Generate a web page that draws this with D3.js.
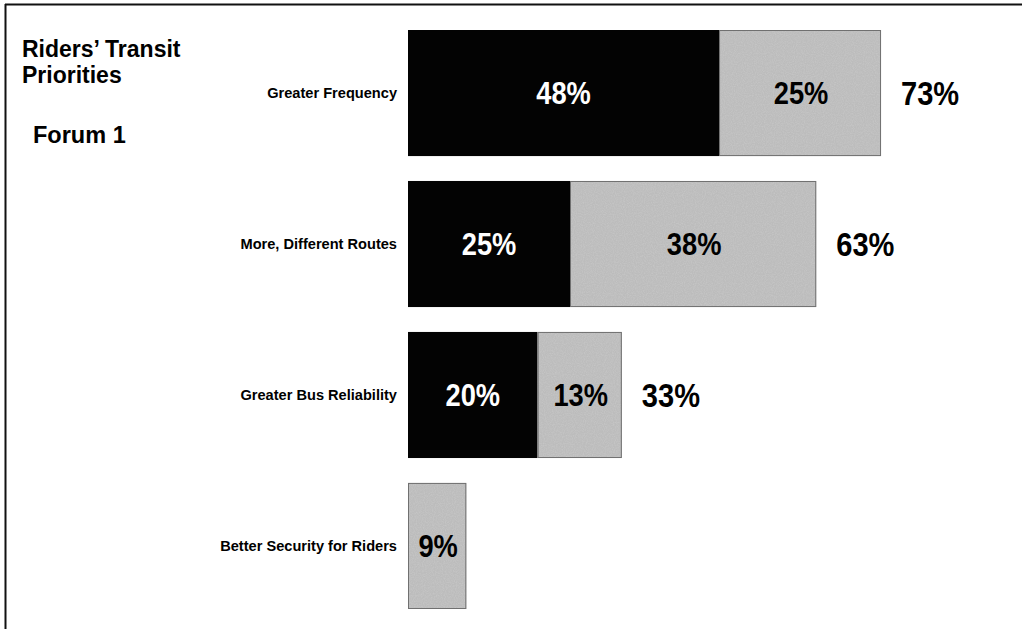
<!DOCTYPE html>
<html><head><meta charset="utf-8">
<script src="https://cdn.jsdelivr.net/npm/d3@7"></script>
<style>
html,body{margin:0;padding:0;background:#fff;}
svg{display:block;}
</style></head>
<body>
<svg id="c" width="1022" height="629"></svg>
<script>
const categories = ["Greater Frequency", "More, Different Routes", "Greater Bus Reliability", "Better Security for Riders"];
const firstChoice = [48, 25, 20, 0];
const secondChoice = [25, 38, 13, 9];
const totals = [73, 63, 33, 9];
const titleLines = ["Riders\u2019 Transit", "Priorities"];
const subtitle = "Forum 1";

const svg = d3.select("#c");
const font = "'Liberation Sans',Arial,Helvetica,sans-serif";
const squeeze = 0.88;

// noise texture for the gray segments
const defs = svg.append("defs");
const f = defs.append("filter").attr("id","grain").attr("x",0).attr("y",0).attr("width",1).attr("height",1);
f.append("feTurbulence").attr("type","fractalNoise").attr("baseFrequency",0.9).attr("numOctaves",2).attr("seed",3).attr("result","n");
f.append("feColorMatrix").attr("in","n").attr("type","matrix")
  .attr("values","0 0 0 0 0.62  0 0 0 0 0.62  0 0 0 0 0.62  0.9 0 0 0 -0.3").attr("result","c");
f.append("feComposite").attr("in","c").attr("in2","SourceGraphic").attr("operator","atop");

// frame
svg.append("line").attr("x1",5).attr("x2",1022).attr("y1",4.5).attr("y2",4.5).attr("stroke","#111").attr("stroke-width",2);
svg.append("line").attr("x1",5.5).attr("x2",5.5).attr("y1",4).attr("y2",629).attr("stroke","#111").attr("stroke-width",2);

const x = d3.scaleLinear().domain([0,100]).range([408, 1056]);
const y = d3.scaleBand().domain(categories).range([30, 609]).paddingInner(0.165).paddingOuter(0);

const data = categories.map((c,i)=>({c, a:firstChoice[i], b:secondChoice[i], t:totals[i]}));

// title
const tt = svg.append("text").attr("font-family",font).attr("font-weight","bold").attr("font-size",23).attr("fill","#000");
titleLines.forEach((l,i)=>tt.append("tspan").attr("x",22).attr("y",57+i*26).text(l));
svg.append("text").attr("x",33).attr("y",143).attr("font-family",font).attr("font-weight","bold").attr("font-size",23.5).text(subtitle);

const g = svg.append("g");
// black segments
g.selectAll("rect.a").data(data.filter(d=>d.a>0)).join("rect").attr("class","a")
  .attr("x",x(0)).attr("y",d=>y(d.c)).attr("width",d=>x(d.a)-x(0)).attr("height",y.bandwidth())
  .attr("fill","#030303");
// gray segments
g.selectAll("rect.b").data(data).join("rect").attr("class","b")
  .attr("x",d=>x(d.a)).attr("y",d=>y(d.c)).attr("width",d=>x(d.a+d.b)-x(d.a)).attr("height",y.bandwidth())
  .attr("fill","#bcbcbc").attr("filter","url(#grain)");
g.selectAll("rect.bo").data(data).join("rect").attr("class","bo")
  .attr("x",d=>x(d.a)+0.5).attr("y",d=>y(d.c)+0.5).attr("width",d=>x(d.a+d.b)-x(d.a)-1).attr("height",y.bandwidth()-1)
  .attr("fill","none").attr("stroke","#707070").attr("stroke-width",1);

// category labels
g.selectAll("text.cat").data(data).join("text").attr("class","cat")
  .attr("x",397).attr("y",d=>y(d.c)+y.bandwidth()/2).attr("dy","0.36em")
  .attr("text-anchor","end").attr("font-family",font).attr("font-weight","bold").attr("font-size",14.6)
  .text(d=>d.c);

function big(sel, size){
  return sel.attr("dy","0.36em").attr("font-family",font).attr("font-weight","bold").attr("font-size",size);
}
// inside labels
big(g.selectAll("text.la").data(data.filter(d=>d.a>0)).join("text").attr("class","la")
  .attr("transform",d=>`translate(${(x(0)+x(d.a))/2},${y(d.c)+y.bandwidth()/2}) scale(${squeeze},1)`)
  .attr("text-anchor","middle"), 31).attr("fill","#fff").text(d=>d.a+"%");
big(g.selectAll("text.lb").data(data).join("text").attr("class","lb")
  .attr("transform",d=>`translate(${(x(d.a)+x(d.a+d.b))/2+1},${y(d.c)+y.bandwidth()/2}) scale(${squeeze},1)`)
  .attr("text-anchor","middle"), 31).attr("fill","#000").text(d=>d.b+"%");
// totals
big(g.selectAll("text.lt").data(data.filter(d=>d.a>0)).join("text").attr("class","lt")
  .attr("transform",d=>`translate(${x(d.t)+20},${y(d.c)+y.bandwidth()/2}) scale(${squeeze},1)`)
  .attr("text-anchor","start"), 33).attr("fill","#000").text(d=>d.t+"%");
</script>
</body></html>
